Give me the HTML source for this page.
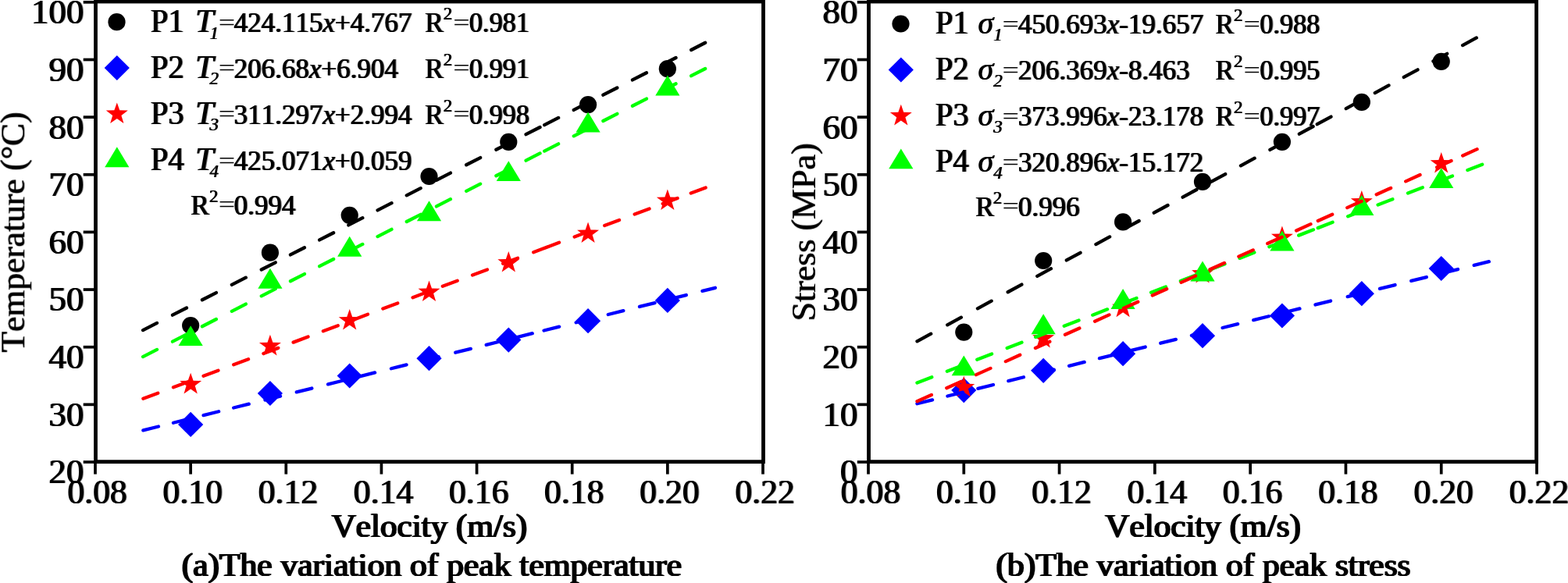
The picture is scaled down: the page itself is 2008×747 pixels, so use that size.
<!DOCTYPE html>
<html lang="en"><head><meta charset="utf-8"><title>Peak temperature and peak stress versus velocity</title>
<style>html,body{margin:0;padding:0;background:#fff;overflow:hidden}svg{display:block}text{font-family:'Liberation Serif', serif;fill:#000;font-kerning:none}.b,.m,.l{filter:drop-shadow(1px 0 0 #000) drop-shadow(1px 0 0 rgba(0,0,0,.5))}.s{filter:drop-shadow(1px 0 0 #000)}.r{filter:drop-shadow(1px 0 0 #000)}.c{filter:drop-shadow(1px 0 0 #000) drop-shadow(1px 0 0 #000);stroke:#000;stroke-width:.2px}</style></head><body>
<svg width="2008" height="747" viewBox="0 0 2008 747" role="img" aria-label="Peak temperature and peak stress versus velocity">
<rect width="2008" height="747" fill="#fff"/>
<g>
<circle cx="244.14" cy="417" r="11.1" fill="#000"/>
<circle cx="345.93" cy="323.7" r="11.1" fill="#000"/>
<circle cx="447.71" cy="275.8" r="11.1" fill="#000"/>
<circle cx="549.5" cy="226" r="11.1" fill="#000"/>
<circle cx="651.29" cy="181.9" r="11.1" fill="#000"/>
<circle cx="753.07" cy="134.2" r="11.1" fill="#000"/>
<circle cx="854.86" cy="88.2" r="11.1" fill="#000"/>
<path d="M244.14 527.8L260.24 543.9L244.14 560L228.04 543.9Z" fill="#0000ff"/>
<path d="M345.93 487.9L362.03 504L345.93 520.1L329.83 504Z" fill="#0000ff"/>
<path d="M447.71 465.4L463.81 481.5L447.71 497.6L431.61 481.5Z" fill="#0000ff"/>
<path d="M549.5 443.1L565.6 459.2L549.5 475.3L533.4 459.2Z" fill="#0000ff"/>
<path d="M651.29 419.5L667.39 435.6L651.29 451.7L635.19 435.6Z" fill="#0000ff"/>
<path d="M753.07 395.1L769.17 411.2L753.07 427.3L736.97 411.2Z" fill="#0000ff"/>
<path d="M854.86 368.8L870.96 384.9L854.86 401L838.76 384.9Z" fill="#0000ff"/>
<path d="M244.14 477.8L247.6 487.74L258.12 487.96L249.74 494.32L252.78 504.39L244.14 498.38L235.5 504.39L238.55 494.32L230.16 487.96L240.69 487.74Z" fill="#ff0000"/>
<path d="M345.93 428.8L349.38 438.74L359.91 438.96L351.52 445.32L354.57 455.39L345.93 449.38L337.29 455.39L340.34 445.32L331.95 438.96L342.47 438.74Z" fill="#ff0000"/>
<path d="M447.71 396L451.17 405.94L461.69 406.16L453.31 412.52L456.35 422.59L447.71 416.58L439.07 422.59L442.12 412.52L433.73 406.16L444.26 405.94Z" fill="#ff0000"/>
<path d="M549.5 359.5L552.96 369.44L563.48 369.66L555.09 376.02L558.14 386.09L549.5 380.08L540.86 386.09L543.91 376.02L535.52 369.66L546.04 369.44Z" fill="#ff0000"/>
<path d="M651.29 322L654.74 331.94L665.27 332.16L656.88 338.52L659.93 348.59L651.29 342.58L642.65 348.59L645.69 338.52L637.31 332.16L647.83 331.94Z" fill="#ff0000"/>
<path d="M753.07 284.5L756.53 294.44L767.05 294.66L758.66 301.02L761.71 311.09L753.07 305.08L744.43 311.09L747.48 301.02L739.09 294.66L749.62 294.44Z" fill="#ff0000"/>
<path d="M854.86 242.5L858.31 252.44L868.84 252.66L860.45 259.02L863.5 269.09L854.86 263.08L846.22 269.09L849.26 259.02L840.88 252.66L851.4 252.44Z" fill="#ff0000"/>
<path d="M244.14 417.2L259.74 443.1L228.54 443.1Z" fill="#00ff00"/>
<path d="M345.93 343.8L361.53 369.7L330.33 369.7Z" fill="#00ff00"/>
<path d="M447.71 302.8L463.31 328.7L432.11 328.7Z" fill="#00ff00"/>
<path d="M549.5 257.3L565.1 283.2L533.9 283.2Z" fill="#00ff00"/>
<path d="M651.29 206.2L666.89 232.1L635.69 232.1Z" fill="#00ff00"/>
<path d="M753.07 143.6L768.67 169.5L737.47 169.5Z" fill="#00ff00"/>
<path d="M854.86 96.5L870.46 122.4L839.26 122.4Z" fill="#00ff00"/>
<path d="M183.05 423.08L201.03 413.88M220.98 403.68L238.96 394.48M258.9 384.28L276.88 375.08M296.82 364.89L314.81 355.69M334.75 345.49L352.73 336.29M371.95 326.46L389.93 317.26M409.15 307.43L427.13 298.24M446.35 288.41L464.33 279.21M483.55 269.38L501.53 260.18M520.75 250.35L538.73 241.16M558.95 230.82L576.93 221.62M597.15 211.28L615.13 202.08M635.35 191.74L653.33 182.54M673.55 172.2L691.53 163M697.15 160.13L715.13 150.93M734.75 140.9L752.73 131.7M772.35 121.67L790.33 112.47M809.95 102.44L827.93 93.24M847.55 83.21L865.53 74.01M885.15 63.98L903.13 54.78" fill="none" stroke="#000" stroke-width="4.3" stroke-linecap="round"/>
<path d="M183.35 551.38L202.95 546.5M221.95 541.76L241.55 536.88M260.55 532.14L280.15 527.26M299.15 522.52L318.75 517.64M339.45 512.48L359.05 507.59M379.75 502.43L399.35 497.55M420.05 492.39L439.65 487.5M460.5 482.31L480.1 477.42M500.95 472.22L520.55 467.34M542.1 461.97L561.7 457.08M583.25 451.71L602.85 446.82M622.7 441.88L642.3 436.99M662.15 432.04L681.75 427.16M696.55 423.47L716.15 418.58M737.65 413.23L757.25 408.34M778.75 402.98L798.35 398.1M818.98 392.95L838.58 388.07M859.22 382.93L878.82 378.04M899.45 372.9L915.93 368.79" fill="none" stroke="#0000ff" stroke-width="4.3" stroke-linecap="round"/>
<path d="M183.05 457.12L201.03 447.9M220.98 437.68L238.95 428.46M258.9 418.24L276.88 409.02M296.82 398.79L314.8 389.58M334.75 379.35L352.73 370.14M371.95 360.28L389.93 351.07M409.15 341.21L427.13 332M446.35 322.15L464.33 312.93M483.55 303.08L501.53 293.86M520.75 284.01L538.73 274.79M558.95 264.42L576.93 255.21M597.15 244.84L615.13 235.63M635.35 225.26L653.33 216.05M673.55 205.68L691.53 196.46M697.15 193.58L715.13 184.37M734.75 174.31L752.73 165.09M772.35 155.03L790.33 145.82M809.95 135.76L827.93 126.54M847.55 116.48L865.53 107.27M885.15 97.21L903.13 87.99" fill="none" stroke="#00ff00" stroke-width="4.3" stroke-linecap="round"/>
<path d="M183.35 510.8L202.26 503.7M221.95 496.31L240.86 489.21M260.55 481.82L279.46 474.72M299.15 467.33L318.06 460.23M337.39 452.97L356.3 445.87M375.62 438.62L394.54 431.52M413.86 424.26L432.77 417.16M452.1 409.91L471.01 402.81M490.34 395.55L509.25 388.45M528.57 381.2L547.49 374.1M566.81 366.84L585.72 359.74M605.05 352.49L623.96 345.39M644.1 337.83L663.01 330.73M683.15 323.17L702.06 316.07M697.15 317.91L716.06 310.81M735.65 303.46L754.56 296.36M774.15 289.01L793.06 281.91M812.65 274.55L831.56 267.45M848.7 261.02L867.61 253.92M884.75 247.49L903.66 240.39" fill="none" stroke="#ff0000" stroke-width="4.3" stroke-linecap="round"/>
<rect x="122.5" y="2" width="855" height="589.65" fill="none" stroke="#000" stroke-width="4.8"/>
<rect x="120.15" y="591.65" width="3.7" height="15.95" fill="#000"/>
<rect x="242.29" y="591.65" width="3.7" height="15.95" fill="#000"/>
<rect x="364.44" y="591.65" width="3.7" height="15.95" fill="#000"/>
<rect x="486.58" y="591.65" width="3.7" height="15.95" fill="#000"/>
<rect x="608.72" y="591.65" width="3.7" height="15.95" fill="#000"/>
<rect x="730.86" y="591.65" width="3.7" height="15.95" fill="#000"/>
<rect x="853.01" y="591.65" width="3.7" height="15.95" fill="#000"/>
<rect x="975.15" y="591.65" width="3.7" height="15.95" fill="#000"/>
<rect x="106.7" y="0.95" width="15.8" height="3.7" fill="#000"/>
<rect x="106.7" y="74.6" width="15.8" height="3.7" fill="#000"/>
<rect x="106.7" y="148.25" width="15.8" height="3.7" fill="#000"/>
<rect x="106.7" y="221.9" width="15.8" height="3.7" fill="#000"/>
<rect x="106.7" y="295.55" width="15.8" height="3.7" fill="#000"/>
<rect x="106.7" y="369.2" width="15.8" height="3.7" fill="#000"/>
<rect x="106.7" y="442.85" width="15.8" height="3.7" fill="#000"/>
<rect x="106.7" y="516.5" width="15.8" height="3.7" fill="#000"/>
<rect x="106.7" y="590.15" width="15.8" height="3.7" fill="#000"/>
<text class="b" x="85.65" y="645.4" font-size="45" textLength="76.6" lengthAdjust="spacingAndGlyphs">0.08</text>
<text class="b" x="207.79" y="645.4" font-size="45" textLength="76.6" lengthAdjust="spacingAndGlyphs">0.10</text>
<text class="b" x="329.94" y="645.4" font-size="45" textLength="76.6" lengthAdjust="spacingAndGlyphs">0.12</text>
<text class="b" x="452.08" y="645.4" font-size="45" textLength="76.6" lengthAdjust="spacingAndGlyphs">0.14</text>
<text class="b" x="574.22" y="645.4" font-size="45" textLength="76.6" lengthAdjust="spacingAndGlyphs">0.16</text>
<text class="b" x="696.36" y="645.4" font-size="45" textLength="76.6" lengthAdjust="spacingAndGlyphs">0.18</text>
<text class="b" x="818.51" y="645.4" font-size="45" textLength="76.6" lengthAdjust="spacingAndGlyphs">0.20</text>
<text class="b" x="940.65" y="645.4" font-size="45" textLength="76.6" lengthAdjust="spacingAndGlyphs">0.22</text>
<text class="b" x="106.85" y="30.2" font-size="45" text-anchor="end">100</text>
<text class="b" x="106.85" y="103.85" font-size="45" text-anchor="end">90</text>
<text class="b" x="106.85" y="177.5" font-size="45" text-anchor="end">80</text>
<text class="b" x="106.85" y="251.15" font-size="45" text-anchor="end">70</text>
<text class="b" x="106.85" y="324.8" font-size="45" text-anchor="end">60</text>
<text class="b" x="106.85" y="398.45" font-size="45" text-anchor="end">50</text>
<text class="b" x="106.85" y="472.1" font-size="45" text-anchor="end">40</text>
<text class="b" x="106.85" y="545.75" font-size="45" text-anchor="end">30</text>
<text class="b" x="106.85" y="619.4" font-size="45" text-anchor="end">20</text>
</g>
<g>
<circle cx="1234.29" cy="425.6" r="11.1" fill="#000"/>
<circle cx="1336.19" cy="334" r="11.1" fill="#000"/>
<circle cx="1438.1" cy="284.4" r="11.1" fill="#000"/>
<circle cx="1540" cy="232.9" r="11.1" fill="#000"/>
<circle cx="1641.9" cy="181.8" r="11.1" fill="#000"/>
<circle cx="1743.81" cy="130.9" r="11.1" fill="#000"/>
<circle cx="1845.71" cy="78.9" r="11.1" fill="#000"/>
<path d="M1234.29 484L1250.39 500.1L1234.29 516.2L1218.19 500.1Z" fill="#0000ff"/>
<path d="M1336.19 458.7L1352.29 474.8L1336.19 490.9L1320.09 474.8Z" fill="#0000ff"/>
<path d="M1438.1 437.1L1454.2 453.2L1438.1 469.3L1422 453.2Z" fill="#0000ff"/>
<path d="M1540 414.1L1556.1 430.2L1540 446.3L1523.9 430.2Z" fill="#0000ff"/>
<path d="M1641.9 388.4L1658 404.5L1641.9 420.6L1625.8 404.5Z" fill="#0000ff"/>
<path d="M1743.81 360.1L1759.91 376.2L1743.81 392.3L1727.71 376.2Z" fill="#0000ff"/>
<path d="M1845.71 327.9L1861.81 344L1845.71 360.1L1829.61 344Z" fill="#0000ff"/>
<path d="M1234.29 481.8L1237.74 491.74L1248.27 491.96L1239.88 498.32L1242.93 508.39L1234.29 502.38L1225.65 508.39L1228.69 498.32L1220.31 491.96L1230.83 491.74Z" fill="#ff0000"/>
<path d="M1336.19 419L1339.65 428.94L1350.17 429.16L1341.78 435.52L1344.83 445.59L1336.19 439.58L1327.55 445.59L1330.6 435.52L1322.21 429.16L1332.73 428.94Z" fill="#ff0000"/>
<path d="M1438.1 379.6L1441.55 389.54L1452.08 389.76L1443.69 396.12L1446.74 406.19L1438.1 400.18L1429.45 406.19L1432.5 396.12L1424.11 389.76L1434.64 389.54Z" fill="#ff0000"/>
<path d="M1540 336L1543.46 345.94L1553.98 346.16L1545.59 352.52L1548.64 362.59L1540 356.58L1531.36 362.59L1534.41 352.52L1526.02 346.16L1536.54 345.94Z" fill="#ff0000"/>
<path d="M1641.9 289.6L1645.36 299.54L1655.89 299.76L1647.5 306.12L1650.55 316.19L1641.9 310.18L1633.26 316.19L1636.31 306.12L1627.92 299.76L1638.45 299.54Z" fill="#ff0000"/>
<path d="M1743.81 244L1747.27 253.94L1757.79 254.16L1749.4 260.52L1752.45 270.59L1743.81 264.58L1735.17 270.59L1738.22 260.52L1729.83 254.16L1740.35 253.94Z" fill="#ff0000"/>
<path d="M1845.71 195L1849.17 204.94L1859.69 205.16L1851.31 211.52L1854.35 221.59L1845.71 215.58L1837.07 221.59L1840.12 211.52L1831.73 205.16L1842.26 204.94Z" fill="#ff0000"/>
<path d="M1234.29 455.4L1249.89 481.3L1218.69 481.3Z" fill="#00ff00"/>
<path d="M1336.19 402.3L1351.79 428.2L1320.59 428.2Z" fill="#00ff00"/>
<path d="M1438.1 370.1L1453.7 396L1422.5 396Z" fill="#00ff00"/>
<path d="M1540 334.6L1555.6 360.5L1524.4 360.5Z" fill="#00ff00"/>
<path d="M1641.9 295.6L1657.5 321.5L1626.3 321.5Z" fill="#00ff00"/>
<path d="M1743.81 250L1759.41 275.9L1728.21 275.9Z" fill="#00ff00"/>
<path d="M1845.71 215.2L1861.31 241.1L1830.11 241.1Z" fill="#00ff00"/>
<path d="M1174.45 437.32L1192.2 427.68M1213.18 416.29L1230.94 406.66M1251.92 395.27L1269.67 385.63M1290.65 374.24L1308.4 364.6M1328.23 353.84L1345.98 344.2M1365.8 333.44L1383.55 323.8M1403.38 313.04L1421.13 303.4M1440.95 292.64L1458.7 283.01M1477.78 272.65L1495.54 263.01M1514.62 252.65L1532.37 243.01M1551.45 232.65L1569.2 223.02M1588.92 212.31L1606.67 202.68M1626.38 191.97L1644.14 182.34M1663.85 171.63L1681.6 162M1686.75 159.2L1704.5 149.56M1723.75 139.12L1741.5 129.48M1760.75 119.03L1778.5 109.39M1797.75 98.94L1815.5 89.3M1835.4 78.5L1853.15 68.86M1873.05 58.06L1890.8 48.43" fill="none" stroke="#000" stroke-width="4.3" stroke-linecap="round"/>
<path d="M1174.45 517.21L1194.05 512.34M1213.42 507.53L1233.02 502.65M1252.38 497.84L1271.99 492.97M1291.35 488.15L1310.95 483.28M1330.22 478.49L1349.82 473.62M1369.08 468.83L1388.69 463.96M1407.95 459.17L1427.55 454.3M1447.1 449.44L1466.7 444.56M1486.25 439.71L1505.85 434.83M1525.9 429.85L1545.5 424.98M1565.55 419.99L1585.15 415.12M1605.2 410.14L1624.8 405.26M1644.85 400.28L1664.45 395.41M1684.45 390.44L1704.05 385.56M1725.7 380.18L1745.3 375.31M1766.95 369.93L1786.55 365.05M1807.18 359.93L1826.79 355.05M1847.42 349.93L1867.02 345.05M1887.65 339.92L1906.86 335.15" fill="none" stroke="#0000ff" stroke-width="4.3" stroke-linecap="round"/>
<path d="M1174.45 490.53L1193.29 483.25M1212.85 475.69L1231.69 468.4M1251.25 460.84L1270.09 453.56M1289.65 446L1308.49 438.72M1326.18 431.88L1345.02 424.6M1362.72 417.76L1381.56 410.48M1399.25 403.64L1418.09 396.35M1436.65 389.18L1455.49 381.9M1474.05 374.72L1492.89 367.44M1511.87 360.11L1530.71 352.82M1549.69 345.49L1568.53 338.2M1587.51 330.87L1606.35 323.58M1625.33 316.25L1644.17 308.97M1663.15 301.63L1681.99 294.35M1687.75 292.12L1706.59 284.84M1726.15 277.28L1744.99 270M1764.55 262.43L1783.39 255.15M1802.95 247.59L1821.79 240.31M1841.15 232.83L1859.99 225.54M1879.35 218.06L1898.19 210.78" fill="none" stroke="#00ff00" stroke-width="4.3" stroke-linecap="round"/>
<path d="M1174.45 514.21L1192.87 505.92M1212.25 497.18L1230.67 488.89M1250.05 480.16L1268.47 471.86M1287.85 463.13L1306.27 454.83M1325.92 445.98L1344.33 437.68M1363.98 428.83L1382.4 420.53M1402.05 411.68L1420.47 403.38M1438.9 395.08L1457.32 386.78M1475.75 378.48L1494.17 370.18M1512.61 361.87L1531.03 353.58M1549.47 345.27L1567.89 336.97M1586.33 328.66L1604.75 320.37M1623.19 312.06L1641.61 303.76M1660.05 295.45L1678.47 287.15M1687.75 282.97L1706.17 274.68M1725.22 266.09L1743.63 257.8M1762.68 249.22L1781.1 240.92M1800.15 232.34L1818.57 224.04M1840.15 214.32L1858.57 206.02M1873.15 199.45L1891.57 191.15" fill="none" stroke="#ff0000" stroke-width="4.3" stroke-linecap="round"/>
<rect x="1112.5" y="2" width="855.1" height="589.65" fill="none" stroke="#000" stroke-width="4.8"/>
<rect x="1110.15" y="591.65" width="3.7" height="15.95" fill="#000"/>
<rect x="1232.44" y="591.65" width="3.7" height="15.95" fill="#000"/>
<rect x="1354.72" y="591.65" width="3.7" height="15.95" fill="#000"/>
<rect x="1477.01" y="591.65" width="3.7" height="15.95" fill="#000"/>
<rect x="1599.29" y="591.65" width="3.7" height="15.95" fill="#000"/>
<rect x="1721.58" y="591.65" width="3.7" height="15.95" fill="#000"/>
<rect x="1843.86" y="591.65" width="3.7" height="15.95" fill="#000"/>
<rect x="1966.15" y="591.65" width="3.7" height="15.95" fill="#000"/>
<rect x="1097.8" y="0.95" width="14.7" height="3.7" fill="#000"/>
<rect x="1097.8" y="74.6" width="14.7" height="3.7" fill="#000"/>
<rect x="1097.8" y="148.25" width="14.7" height="3.7" fill="#000"/>
<rect x="1097.8" y="221.9" width="14.7" height="3.7" fill="#000"/>
<rect x="1097.8" y="295.55" width="14.7" height="3.7" fill="#000"/>
<rect x="1097.8" y="369.2" width="14.7" height="3.7" fill="#000"/>
<rect x="1097.8" y="442.85" width="14.7" height="3.7" fill="#000"/>
<rect x="1097.8" y="516.5" width="14.7" height="3.7" fill="#000"/>
<rect x="1097.8" y="590.15" width="14.7" height="3.7" fill="#000"/>
<text class="b" x="1075.95" y="645.4" font-size="45" textLength="76.6" lengthAdjust="spacingAndGlyphs">0.08</text>
<text class="b" x="1198.24" y="645.4" font-size="45" textLength="76.6" lengthAdjust="spacingAndGlyphs">0.10</text>
<text class="b" x="1320.52" y="645.4" font-size="45" textLength="76.6" lengthAdjust="spacingAndGlyphs">0.12</text>
<text class="b" x="1442.81" y="645.4" font-size="45" textLength="76.6" lengthAdjust="spacingAndGlyphs">0.14</text>
<text class="b" x="1565.09" y="645.4" font-size="45" textLength="76.6" lengthAdjust="spacingAndGlyphs">0.16</text>
<text class="b" x="1687.38" y="645.4" font-size="45" textLength="76.6" lengthAdjust="spacingAndGlyphs">0.18</text>
<text class="b" x="1809.66" y="645.4" font-size="45" textLength="76.6" lengthAdjust="spacingAndGlyphs">0.20</text>
<text class="b" x="1931.95" y="645.4" font-size="45" textLength="76.6" lengthAdjust="spacingAndGlyphs">0.22</text>
<text class="b" x="1097.75" y="30.2" font-size="45" text-anchor="end">80</text>
<text class="b" x="1097.75" y="103.85" font-size="45" text-anchor="end">70</text>
<text class="b" x="1097.75" y="177.5" font-size="45" text-anchor="end">60</text>
<text class="b" x="1097.75" y="251.15" font-size="45" text-anchor="end">50</text>
<text class="b" x="1097.75" y="324.8" font-size="45" text-anchor="end">40</text>
<text class="b" x="1097.75" y="398.45" font-size="45" text-anchor="end">30</text>
<text class="b" x="1097.75" y="472.1" font-size="45" text-anchor="end">20</text>
<text class="b" x="1097.75" y="545.75" font-size="45" text-anchor="end">10</text>
<text class="b" x="1097.75" y="619.4" font-size="45" text-anchor="end">0</text>
</g>
<text class="c" x="548.9" y="688.2" font-size="43.2" text-anchor="middle" textLength="250.5" lengthAdjust="spacingAndGlyphs">Velocity (m/s)</text>
<text class="c" x="1539.6" y="688.2" font-size="43.2" text-anchor="middle" textLength="250.5" lengthAdjust="spacingAndGlyphs">Velocity (m/s)</text>
<text class="c" x="551.9" y="737.6" font-size="41.5" text-anchor="middle" textLength="640.5" lengthAdjust="spacingAndGlyphs">(a)The variation of peak temperature</text>
<text class="c" x="1540" y="737.6" font-size="41.5" text-anchor="middle" textLength="531" lengthAdjust="spacingAndGlyphs">(b)The variation of peak stress</text>
<text class="r" transform="translate(31.3 297.2) rotate(-90)" x="-0.7" font-size="45" text-anchor="middle" textLength="308" lengthAdjust="spacingAndGlyphs">Temperature (°C)</text>
<text class="r" transform="translate(1044 297.2) rotate(-90)" x="-0.7" font-size="45" text-anchor="middle" textLength="228" lengthAdjust="spacingAndGlyphs">Stress (MPa)</text>
<circle cx="149.5" cy="28.2" r="11.1" fill="#000"/>
<text class="b" x="192.15" y="40.8" font-size="42" textLength="42.8" lengthAdjust="spacingAndGlyphs">P1</text>
<text class="l" x="249.55" y="40.8" font-size="42" font-style="italic">T</text>
<text class="s" x="268.1" y="49.5" font-size="23" font-style="italic">1</text>
<text class="n" x="279.7" y="38.5" font-size="29" textLength="21.5" lengthAdjust="spacingAndGlyphs">=</text>
<text class="l" x="298.95" y="40.8" font-size="35">424.115<tspan font-style="italic">x</tspan>+4.767</text>
<text class="l" x="543.65" y="40.8" font-size="35">R</text>
<text class="s" x="567.2" y="25" font-size="23">2</text>
<text class="n" x="580.2" y="38.5" font-size="29" textLength="21.5" lengthAdjust="spacingAndGlyphs">=</text>
<text class="l" x="600.25" y="40.8" font-size="35" textLength="77" lengthAdjust="spacingAndGlyphs">0.981</text>
<path d="M149.8 70.9L165.9 87L149.8 103.1L133.7 87Z" fill="#0000ff"/>
<text class="b" x="192.15" y="99.7" font-size="42" textLength="42.8" lengthAdjust="spacingAndGlyphs">P2</text>
<text class="l" x="249.55" y="99.7" font-size="42" font-style="italic">T</text>
<text class="s" x="268.1" y="108.4" font-size="23" font-style="italic">2</text>
<text class="n" x="279.7" y="97.4" font-size="29" textLength="21.5" lengthAdjust="spacingAndGlyphs">=</text>
<text class="l" x="298.95" y="99.7" font-size="35">206.68<tspan font-style="italic">x</tspan>+6.904</text>
<text class="l" x="543.65" y="99.7" font-size="35">R</text>
<text class="s" x="567.2" y="83.9" font-size="23">2</text>
<text class="n" x="580.2" y="97.4" font-size="29" textLength="21.5" lengthAdjust="spacingAndGlyphs">=</text>
<text class="l" x="600.25" y="99.7" font-size="35" textLength="77" lengthAdjust="spacingAndGlyphs">0.991</text>
<path d="M149.8 131.4L153.26 141.34L163.78 141.56L155.39 147.92L158.44 157.99L149.8 151.98L141.16 157.99L144.21 147.92L135.82 141.56L146.34 141.34Z" fill="#ff0000"/>
<text class="b" x="192.15" y="158.5" font-size="42" textLength="42.8" lengthAdjust="spacingAndGlyphs">P3</text>
<text class="l" x="249.55" y="158.5" font-size="42" font-style="italic">T</text>
<text class="s" x="268.1" y="167.2" font-size="23" font-style="italic">3</text>
<text class="n" x="279.7" y="156.2" font-size="29" textLength="21.5" lengthAdjust="spacingAndGlyphs">=</text>
<text class="l" x="298.95" y="158.5" font-size="35">311.297<tspan font-style="italic">x</tspan>+2.994</text>
<text class="l" x="543.65" y="158.5" font-size="35">R</text>
<text class="s" x="567.2" y="142.7" font-size="23">2</text>
<text class="n" x="580.2" y="156.2" font-size="29" textLength="21.5" lengthAdjust="spacingAndGlyphs">=</text>
<text class="l" x="600.25" y="158.5" font-size="35" textLength="77" lengthAdjust="spacingAndGlyphs">0.998</text>
<path d="M149.8 188.3L165.4 214.2L134.2 214.2Z" fill="#00ff00"/>
<text class="b" x="192.15" y="218.2" font-size="42" textLength="42.8" lengthAdjust="spacingAndGlyphs">P4</text>
<text class="l" x="249.55" y="218.2" font-size="42" font-style="italic">T</text>
<text class="s" x="268.1" y="226.9" font-size="23" font-style="italic">4</text>
<text class="n" x="279.7" y="215.9" font-size="29" textLength="21.5" lengthAdjust="spacingAndGlyphs">=</text>
<text class="l" x="298.95" y="218.2" font-size="35">425.071<tspan font-style="italic">x</tspan>+0.059</text>
<text class="l" x="243.65" y="274.7" font-size="35">R</text>
<text class="s" x="267.5" y="258.9" font-size="23">2</text>
<text class="n" x="279.7" y="272.4" font-size="29" textLength="21.5" lengthAdjust="spacingAndGlyphs">=</text>
<text class="l" x="298.95" y="274.7" font-size="35">0.994</text>
<circle cx="1153.5" cy="30.5" r="11.1" fill="#000"/>
<text class="b" x="1197.25" y="43.1" font-size="42" textLength="42.8" lengthAdjust="spacingAndGlyphs">P1</text>
<text class="s" x="1252.1" y="43.1" font-size="40" font-style="italic">σ</text>
<text class="s" x="1271.8" y="51.8" font-size="23" font-style="italic">1</text>
<text class="n" x="1283.4" y="40.8" font-size="29" textLength="21.5" lengthAdjust="spacingAndGlyphs">=</text>
<text class="l" x="1303.25" y="43.1" font-size="35">450.693<tspan font-style="italic">x</tspan>-19.657</text>
<text class="l" x="1556.05" y="43.1" font-size="35">R</text>
<text class="s" x="1579.6" y="27.3" font-size="23">2</text>
<text class="n" x="1592.6" y="40.8" font-size="29" textLength="21.5" lengthAdjust="spacingAndGlyphs">=</text>
<text class="l" x="1612.65" y="43.1" font-size="35" textLength="77" lengthAdjust="spacingAndGlyphs">0.988</text>
<path d="M1153.8 73.4L1169.9 89.5L1153.8 105.6L1137.7 89.5Z" fill="#0000ff"/>
<text class="b" x="1197.25" y="102.2" font-size="42" textLength="42.8" lengthAdjust="spacingAndGlyphs">P2</text>
<text class="s" x="1252.1" y="102.2" font-size="40" font-style="italic">σ</text>
<text class="s" x="1271.8" y="110.9" font-size="23" font-style="italic">2</text>
<text class="n" x="1283.4" y="99.9" font-size="29" textLength="21.5" lengthAdjust="spacingAndGlyphs">=</text>
<text class="l" x="1303.25" y="102.2" font-size="35">206.369<tspan font-style="italic">x</tspan>-8.463</text>
<text class="l" x="1556.05" y="102.2" font-size="35">R</text>
<text class="s" x="1579.6" y="86.4" font-size="23">2</text>
<text class="n" x="1592.6" y="99.9" font-size="29" textLength="21.5" lengthAdjust="spacingAndGlyphs">=</text>
<text class="l" x="1612.65" y="102.2" font-size="35" textLength="77" lengthAdjust="spacingAndGlyphs">0.995</text>
<path d="M1153.8 133.8L1157.26 143.74L1167.78 143.96L1159.39 150.32L1162.44 160.39L1153.8 154.38L1145.16 160.39L1148.21 150.32L1139.82 143.96L1150.34 143.74Z" fill="#ff0000"/>
<text class="b" x="1197.25" y="160.9" font-size="42" textLength="42.8" lengthAdjust="spacingAndGlyphs">P3</text>
<text class="s" x="1252.1" y="160.9" font-size="40" font-style="italic">σ</text>
<text class="s" x="1271.8" y="169.6" font-size="23" font-style="italic">3</text>
<text class="n" x="1283.4" y="158.6" font-size="29" textLength="21.5" lengthAdjust="spacingAndGlyphs">=</text>
<text class="l" x="1303.25" y="160.9" font-size="35">373.996<tspan font-style="italic">x</tspan>-23.178</text>
<text class="l" x="1556.05" y="160.9" font-size="35">R</text>
<text class="s" x="1579.6" y="145.1" font-size="23">2</text>
<text class="n" x="1592.6" y="158.6" font-size="29" textLength="21.5" lengthAdjust="spacingAndGlyphs">=</text>
<text class="l" x="1612.65" y="160.9" font-size="35" textLength="77" lengthAdjust="spacingAndGlyphs">0.997</text>
<path d="M1153.8 190.4L1169.4 216.3L1138.2 216.3Z" fill="#00ff00"/>
<text class="b" x="1197.25" y="220.3" font-size="42" textLength="42.8" lengthAdjust="spacingAndGlyphs">P4</text>
<text class="s" x="1252.1" y="220.3" font-size="40" font-style="italic">σ</text>
<text class="s" x="1271.8" y="229" font-size="23" font-style="italic">4</text>
<text class="n" x="1283.4" y="218" font-size="29" textLength="21.5" lengthAdjust="spacingAndGlyphs">=</text>
<text class="l" x="1303.25" y="220.3" font-size="35">320.896<tspan font-style="italic">x</tspan>-15.172</text>
<text class="l" x="1248.65" y="276.5" font-size="35">R</text>
<text class="s" x="1271.2" y="260.7" font-size="23">2</text>
<text class="n" x="1283.4" y="274.2" font-size="29" textLength="21.5" lengthAdjust="spacingAndGlyphs">=</text>
<text class="l" x="1303.25" y="276.5" font-size="35">0.996</text>
</svg></body></html>
